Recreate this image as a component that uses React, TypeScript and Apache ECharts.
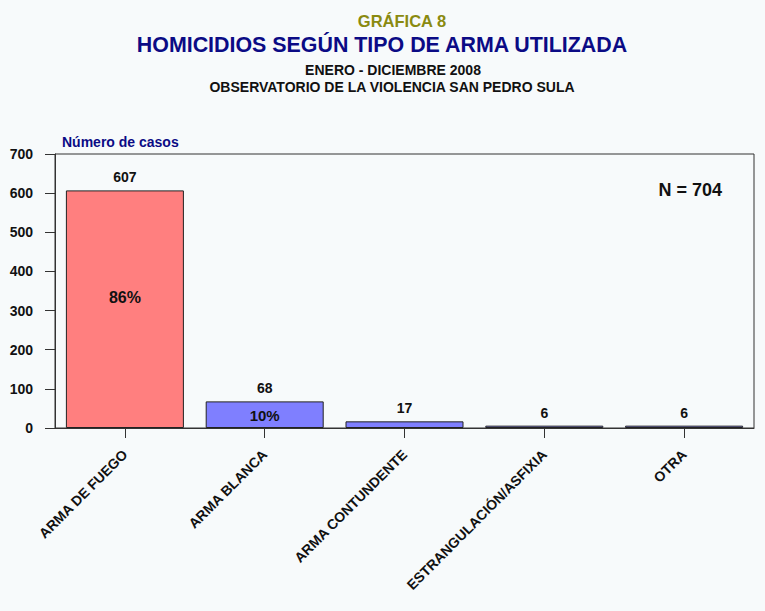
import React, { useEffect, useRef } from "react";
import * as echarts from "echarts";

const categories = ["ARMA DE FUEGO", "ARMA BLANCA", "ARMA CONTUNDENTE", "ESTRANGULACIÓN/ASFIXIA", "OTRA"];
const values = [607, 68, 17, 6, 6];
const percents = ["86%", "10%", "", "", ""];
const barColors = ["#ff7f7f", "#7f7fff", "#7f7fff", "#7f7fff", "#7f7fff"];
const yTicks = { min: 0, max: 700, interval: 100 };

const FONT = "'Liberation Sans', Arial, Helvetica, sans-serif";

export default function App() {
  const ref = useRef<HTMLDivElement>(null);
  useEffect(() => {
    if (!ref.current) return;
    const chart = echarts.init(ref.current, null, { renderer: "svg" });
    const total = values.reduce((a, b) => a + b, 0);
    chart.setOption({
      animation: false,
      backgroundColor: "#f7fafb",
      textStyle: { fontFamily: FONT },
      grid: {
        left: 55,
        right: 11,
        top: 154,
        bottom: 183,
        containLabel: false,
        outerBoundsMode: "none",
        show: true,
        borderColor: "#333",
        borderWidth: 1,
        backgroundColor: "transparent",
      },
      xAxis: {
        type: "category",
        data: categories,
        axisLine: { show: true, lineStyle: { color: "#333", width: 1 } },
        axisTick: { show: true, alignWithLabel: true, length: 10, lineStyle: { color: "#333" } },
        axisLabel: {
          rotate: 45,
          interval: 0,
          margin: 24,
          color: "#111",
          fontWeight: "bold",
          fontSize: 14,
          fontFamily: FONT,
        },
      },
      yAxis: {
        type: "value",
        min: yTicks.min,
        max: yTicks.max,
        interval: yTicks.interval,
        splitLine: { show: false },
        axisLine: { show: true, lineStyle: { color: "#333", width: 1 } },
        axisTick: { show: true, length: 10, lineStyle: { color: "#333" } },
        axisLabel: {
          margin: 22,
          color: "#111",
          fontWeight: "bold",
          fontSize: 14,
          fontFamily: FONT,
        },
      },
      series: [
        {
          type: "bar",
          barWidth: 118,
          data: values.map((v, i) => ({
            value: v,
            itemStyle: { color: barColors[i], borderColor: "#222", borderWidth: 1 },
          })),
          label: {
            show: true,
            position: "top",
            distance: 6,
            color: "#111",
            fontWeight: "bold",
            fontSize: 14,
            fontFamily: FONT,
          },
        },
        {
          type: "bar",
          barWidth: 118,
          barGap: "-100%",
          silent: true,
          data: values.map((v, i) => ({
            value: v,
            itemStyle: { color: "transparent", borderWidth: 0 },
            label: i === 0 ? { offset: [0, -12], fontSize: 16 } : { offset: [0, 1], fontSize: 15 },
          })),
          label: {
            show: true,
            position: "inside",
            formatter: (p: any) => percents[p.dataIndex],
            color: "#111",
            fontWeight: "bold",
            fontSize: 15,
            fontFamily: FONT,
          },
          z: 3,
        },
      ],
      graphic: [
        {
          type: "text",
          x: 402,
          y: 21,
          style: {
            text: "GRÁFICA 8",
            fill: "#8a8a10",
            font: `bold 16.5px ${FONT}`,
            align: "center",
            verticalAlign: "middle",
          },
        },
        {
          type: "text",
          x: 382,
          y: 45,
          style: {
            text: "HOMICIDIOS SEGÚN TIPO DE ARMA UTILIZADA",
            fill: "#0b0b85",
            font: `bold 21.4px ${FONT}`,
            align: "center",
            verticalAlign: "middle",
          },
        },
        {
          type: "text",
          x: 393,
          y: 70,
          style: {
            text: "ENERO - DICIEMBRE 2008",
            fill: "#111",
            font: `bold 14px ${FONT}`,
            align: "center",
            verticalAlign: "middle",
          },
        },
        {
          type: "text",
          x: 392,
          y: 87,
          style: {
            text: "OBSERVATORIO DE LA VIOLENCIA SAN PEDRO SULA",
            fill: "#111",
            font: `bold 14px ${FONT}`,
            align: "center",
            verticalAlign: "middle",
          },
        },
        {
          type: "text",
          x: 62,
          y: 142,
          style: {
            text: "Número de casos",
            fill: "#0b0b85",
            font: `bold 14px ${FONT}`,
            align: "left",
            verticalAlign: "middle",
          },
        },
        {
          type: "text",
          x: 722,
          y: 190,
          style: {
            text: `N = ${total}`,
            fill: "#111",
            font: `bold 18px ${FONT}`,
            align: "right",
            verticalAlign: "middle",
          },
        },
      ],
    });
    return () => chart.dispose();
  }, []);
  return (
    <div
      ref={ref}
      style={{ position: "absolute", left: 0, top: 0, width: 765, height: 611 }}
    />
  );
}
